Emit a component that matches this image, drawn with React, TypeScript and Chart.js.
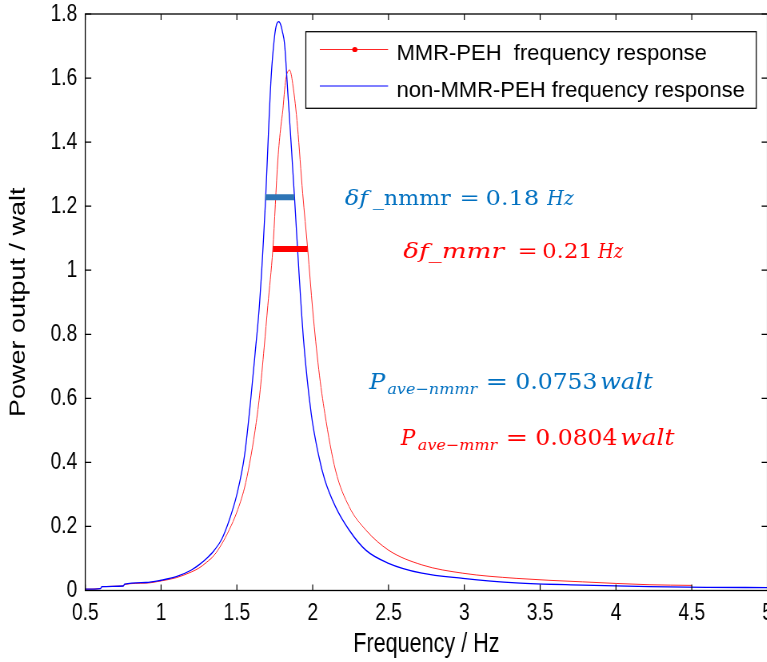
import React, { useEffect, useRef } from "react";
import { Chart, registerables } from "chart.js";

Chart.register(...registerables);

// ---------- data ----------
const freqNonMMR = [0.5, 0.6, 0.61, 0.75, 0.76, 0.9, 1.0, 1.1, 1.2, 1.25, 1.3, 1.35, 1.4, 1.45, 1.5, 1.55, 1.59, 1.62, 1.65, 1.69, 1.71, 1.726, 1.748, 1.762, 1.776, 1.79, 1.8, 1.814, 1.836, 1.86, 1.88, 1.91, 1.94, 1.99, 2.04, 2.08, 2.15, 2.24, 2.35, 2.5, 2.72, 2.99, 3.34, 3.78, 4.22, 4.6, 5.0];
const powerNonMMR = [0.004, 0.006, 0.012, 0.014, 0.02, 0.025, 0.032, 0.043, 0.064, 0.08, 0.1, 0.125, 0.16, 0.22, 0.3, 0.42, 0.59, 0.74, 0.9, 1.23, 1.45, 1.604, 1.729, 1.768, 1.776, 1.765, 1.745, 1.708, 1.552, 1.38, 1.228, 0.99, 0.78, 0.553, 0.42, 0.345, 0.262, 0.189, 0.126, 0.085, 0.054, 0.038, 0.024, 0.017, 0.012, 0.01, 0.009];

const freqMMR = [0.5, 0.6, 0.61, 0.75, 0.76, 0.9, 1.0, 1.1, 1.2, 1.25, 1.3, 1.35, 1.4, 1.45, 1.5, 1.55, 1.584, 1.62, 1.65, 1.68, 1.704, 1.737, 1.77, 1.79, 1.803, 1.815, 1.825, 1.838, 1.848, 1.858, 1.868, 1.885, 1.9, 1.934, 1.967, 2.0, 2.04, 2.08, 2.15, 2.24, 2.35, 2.5, 2.72, 2.99, 3.34, 3.78, 4.22, 4.5];
const powerMMR = [0.004, 0.006, 0.012, 0.014, 0.019, 0.023, 0.03, 0.04, 0.058, 0.07, 0.088, 0.11, 0.145, 0.19, 0.245, 0.32, 0.397, 0.5, 0.61, 0.76, 0.89, 1.066, 1.344, 1.45, 1.5, 1.565, 1.604, 1.622, 1.625, 1.612, 1.583, 1.52, 1.448, 1.24, 1.066, 0.876, 0.69, 0.553, 0.376, 0.262, 0.189, 0.126, 0.08, 0.054, 0.038, 0.027, 0.018, 0.016];

const seriesLabels = ["MMR-PEH  frequency response", "non-MMR-PEH frequency response"];
// half-power bandwidth bars: [f1, f2, power]
const bandNonMMR = [1.687, 1.88, 1.228];
const bandMMR = [1.737, 1.967, 1.066];

const xAxisTitle = "Frequency / Hz";
const yAxisTitle = "Power output / walt";

// ---------- styles / layout ----------
const SX = 1.25; // canvas px per displayed px horizontally
const BLUE_TXT = "#0070C0";
const RED = "#FF0000";
const SANS = "'Liberation Sans', Arial, sans-serif";
const SERIF = "'DejaVu Serif', 'Liberation Serif', serif";

// annotation runs: text, span start x, span width, baseline y, size, italic, colour
type Run = { t: string; x: number; w: number; y: number; s: number; i: boolean; c: string };
const annotationRuns: Run[] = [
  { t: "δf", x: 345, w: 27, y: 205, s: 21, i: true, c: BLUE_TXT },
  { t: "_nmmr", x: 373, w: 79, y: 205, s: 21, i: false, c: BLUE_TXT },
  { t: "=", x: 462, w: 16, y: 205, s: 21, i: false, c: BLUE_TXT },
  { t: "0.18", x: 487, w: 51, y: 205, s: 21, i: false, c: BLUE_TXT },
  { t: "Hz", x: 546.5, w: 28.5, y: 205, s: 21, i: true, c: BLUE_TXT },

  { t: "δf_mmr", x: 403.3, w: 105, y: 258.3, s: 21, i: true, c: RED },
  { t: "=", x: 520, w: 16, y: 258.3, s: 21, i: false, c: RED },
  { t: "0.21", x: 543.5, w: 47, y: 258.3, s: 21, i: false, c: RED },
  { t: "Hz", x: 597.5, w: 24, y: 258.3, s: 21, i: true, c: RED },

  { t: "P", x: 368.3, w: 18.4, y: 389.3, s: 22, i: true, c: BLUE_TXT },
  { t: "ave−nmmr", x: 387.5, w: 90.8, y: 394, s: 15, i: true, c: BLUE_TXT },
  { t: "=", x: 488.3, w: 18.4, y: 389.3, s: 22, i: false, c: BLUE_TXT },
  { t: "0.0753", x: 516.7, w: 80, y: 389.3, s: 22, i: false, c: BLUE_TXT },
  { t: "walt", x: 601.7, w: 51.6, y: 389.3, s: 22, i: true, c: BLUE_TXT },

  { t: "P", x: 400, w: 16.7, y: 445, s: 22, i: true, c: RED },
  { t: "ave−mmr", x: 418, w: 80.3, y: 450, s: 15, i: true, c: RED },
  { t: "=", x: 508.3, w: 18.4, y: 445, s: 22, i: false, c: RED },
  { t: "0.0804", x: 536.7, w: 80, y: 445, s: 22, i: false, c: RED },
  { t: "walt", x: 621.7, w: 53.3, y: 445, s: 22, i: true, c: RED },
];

// draw a run starting at its span's left edge, gently fitted to the span width
function drawRun(ctx: CanvasRenderingContext2D, r: Run) {
  ctx.save();
  ctx.font = `${r.i ? "italic " : ""}${r.s}px ${SERIF}`;
  ctx.fillStyle = r.c;
  ctx.textAlign = "left";
  ctx.textBaseline = "alphabetic";
  const m = ctx.measureText(r.t);
  const bl = m.actualBoundingBoxLeft || 0;
  const ink = bl + (m.actualBoundingBoxRight || m.width);
  let k = r.w / ink;
  k = Math.max(0.85, Math.min(1.25, k));
  ctx.translate(r.x * SX + bl * k * SX, r.y);
  ctx.scale(k * SX, 1);
  ctx.fillText(r.t, 0, 0);
  ctx.restore();
}

function plainText(ctx: CanvasRenderingContext2D, t: string, dx: number, y: number, font: string, color: string) {
  ctx.save();
  ctx.font = font;
  ctx.fillStyle = color;
  ctx.textAlign = "left";
  ctx.textBaseline = "alphabetic";
  ctx.translate(dx * SX, y);
  ctx.scale(SX, 1);
  ctx.fillText(t, 0, 0);
  ctx.restore();
}

const fmt = (v: any) => String(parseFloat(Number(v).toFixed(2)));

const decorPlugin = {
  id: "decor",
  afterDatasetsDraw(chart: any) {
    const ctx: CanvasRenderingContext2D = chart.ctx;
    const xs = chart.scales.x;
    const ys = chart.scales.y;
    const bars: [number[], string][] = [
      [bandNonMMR, "#2E75B6"],
      [bandMMR, RED],
    ];
    ctx.save();
    bars.forEach(([b, col]) => {
      ctx.strokeStyle = col;
      ctx.lineWidth = 6;
      ctx.beginPath();
      ctx.moveTo(xs.getPixelForValue(b[0]), ys.getPixelForValue(b[2]));
      ctx.lineTo(xs.getPixelForValue(b[1]), ys.getPixelForValue(b[2]));
      ctx.stroke();
    });
    ctx.restore();
  },
  afterDraw(chart: any) {
    const ctx: CanvasRenderingContext2D = chart.ctx;
    const { left, right, top, bottom } = chart.chartArea;
    const xs = chart.scales.x;
    const ys = chart.scales.y;
    ctx.save();
    ctx.strokeStyle = "#000";
    ctx.lineWidth = 1.3;
    ctx.strokeRect(left, top, right - left, bottom - top);
    ctx.lineWidth = 1.2;
    ctx.beginPath();
    xs.ticks.forEach((t: any) => {
      const px = xs.getPixelForValue(t.value);
      ctx.moveTo(px, bottom);
      ctx.lineTo(px, bottom - 6);
      ctx.moveTo(px, top);
      ctx.lineTo(px, top + 6);
    });
    ys.ticks.forEach((t: any) => {
      const py = ys.getPixelForValue(t.value);
      ctx.moveTo(left, py);
      ctx.lineTo(left + 6 * SX, py);
      ctx.moveTo(right, py);
      ctx.lineTo(right - 6 * SX, py);
    });
    ctx.stroke();

    // legend
    const bx0 = 306 * SX, bx1 = 756.7 * SX, by0 = 31.7, by1 = 108.3;
    ctx.fillStyle = "#fff";
    ctx.fillRect(bx0, by0, bx1 - bx0, by1 - by0);
    ctx.strokeStyle = "#000";
    ctx.lineWidth = 1.25;
    ctx.strokeRect(bx0, by0, bx1 - bx0, by1 - by0);

    const ds = chart.data.datasets;
    const rows = [
      { y: 49.5, ty: 59.5, col: ds[0].borderColor, w: 1, marker: true, label: ds[0].label },
      { y: 86, ty: 96.5, col: ds[1].borderColor, w: 1.2, marker: false, label: ds[1].label },
    ];
    rows.forEach((r) => {
      ctx.strokeStyle = r.col;
      ctx.lineWidth = r.w;
      ctx.beginPath();
      ctx.moveTo(320 * SX, r.y);
      ctx.lineTo(388.3 * SX, r.y);
      ctx.stroke();
      if (r.marker) {
        ctx.fillStyle = RED;
        ctx.beginPath();
        ctx.ellipse(355 * SX, r.y, 2.6 * SX, 2.6, 0, 0, Math.PI * 2);
        ctx.fill();
      }
      plainText(ctx, r.label, 396.7, r.ty, `22px ${SANS}`, "#000");
    });

    annotationRuns.forEach((r) => drawRun(ctx, r));
    ctx.restore();
  },
};

export default function App() {
  const ref = useRef<HTMLCanvasElement>(null);
  useEffect(() => {
    document.body.style.margin = "0";
    document.body.style.overflow = "hidden";
    const canvas = ref.current!;
    const chart = new Chart(canvas, {
      type: "line",
      data: {
        datasets: [
          {
            label: seriesLabels[0],
            data: freqMMR.map((x, i) => ({ x, y: powerMMR[i] })),
            borderColor: "rgba(255,0,0,0.85)",
            borderWidth: 1,
            pointRadius: 0,
            cubicInterpolationMode: "monotone",
            order: 2,
          },
          {
            label: seriesLabels[1],
            data: freqNonMMR.map((x, i) => ({ x, y: powerNonMMR[i] })),
            borderColor: "#0000FF",
            borderWidth: 1.3,
            pointRadius: 0,
            cubicInterpolationMode: "monotone",
            order: 1,
          },
        ],
      },
      options: {
        responsive: false,
        animation: false,
        devicePixelRatio: 1,
        layout: { padding: { top: 14, right: 8, left: 0, bottom: 0 } },
        plugins: { legend: { display: false }, tooltip: { enabled: false } },
        scales: {
          x: {
            type: "linear",
            min: 0.5,
            max: 5,
            afterFit: (s: any) => {
              s.height = 71.5;
              s.paddingLeft = 0;
              s.paddingRight = 0;
            },
            grid: { display: false, drawTicks: false },
            border: { display: false },
            ticks: {
              stepSize: 0.5,
              autoSkip: false,
              maxRotation: 0,
              padding: 8,
              color: "#000",
              callback: fmt,
              font: { family: SANS, size: 24, lineHeight: 1.2 },
            },
            title: {
              display: true,
              text: xAxisTitle,
              color: "#000",
              font: { family: SANS, size: 27, lineHeight: 1.2 },
              padding: { top: 0, bottom: 1 },
            },
          },
          y: {
            type: "linear",
            min: 0,
            max: 1.8,
            afterFit: (s: any) => {
              s.width = 106.6;
              s.paddingTop = 0;
              s.paddingBottom = 0;
            },
            grid: { display: false, drawTicks: false },
            border: { display: false },
            ticks: {
              stepSize: 0.2,
              autoSkip: false,
              padding: 10,
              color: "#000",
              callback: fmt,
              font: { family: SANS, size: 24, lineHeight: 1.0 },
            },
            title: {
              display: true,
              text: yAxisTitle,
              color: "#000",
              font: { family: SANS, size: 27, lineHeight: 1.2 },
              padding: { top: 7.5, bottom: 0 },
            },
          },
        },
      } as any,
      plugins: [decorPlugin],
    });
    return () => chart.destroy();
  }, []);
  return (
    <div style={{ width: 767, height: 662, overflow: "hidden", background: "#fff" }}>
      <canvas ref={ref} width={968} height={662} style={{ width: "774.4px", height: "662px", display: "block" }} />
    </div>
  );
}
